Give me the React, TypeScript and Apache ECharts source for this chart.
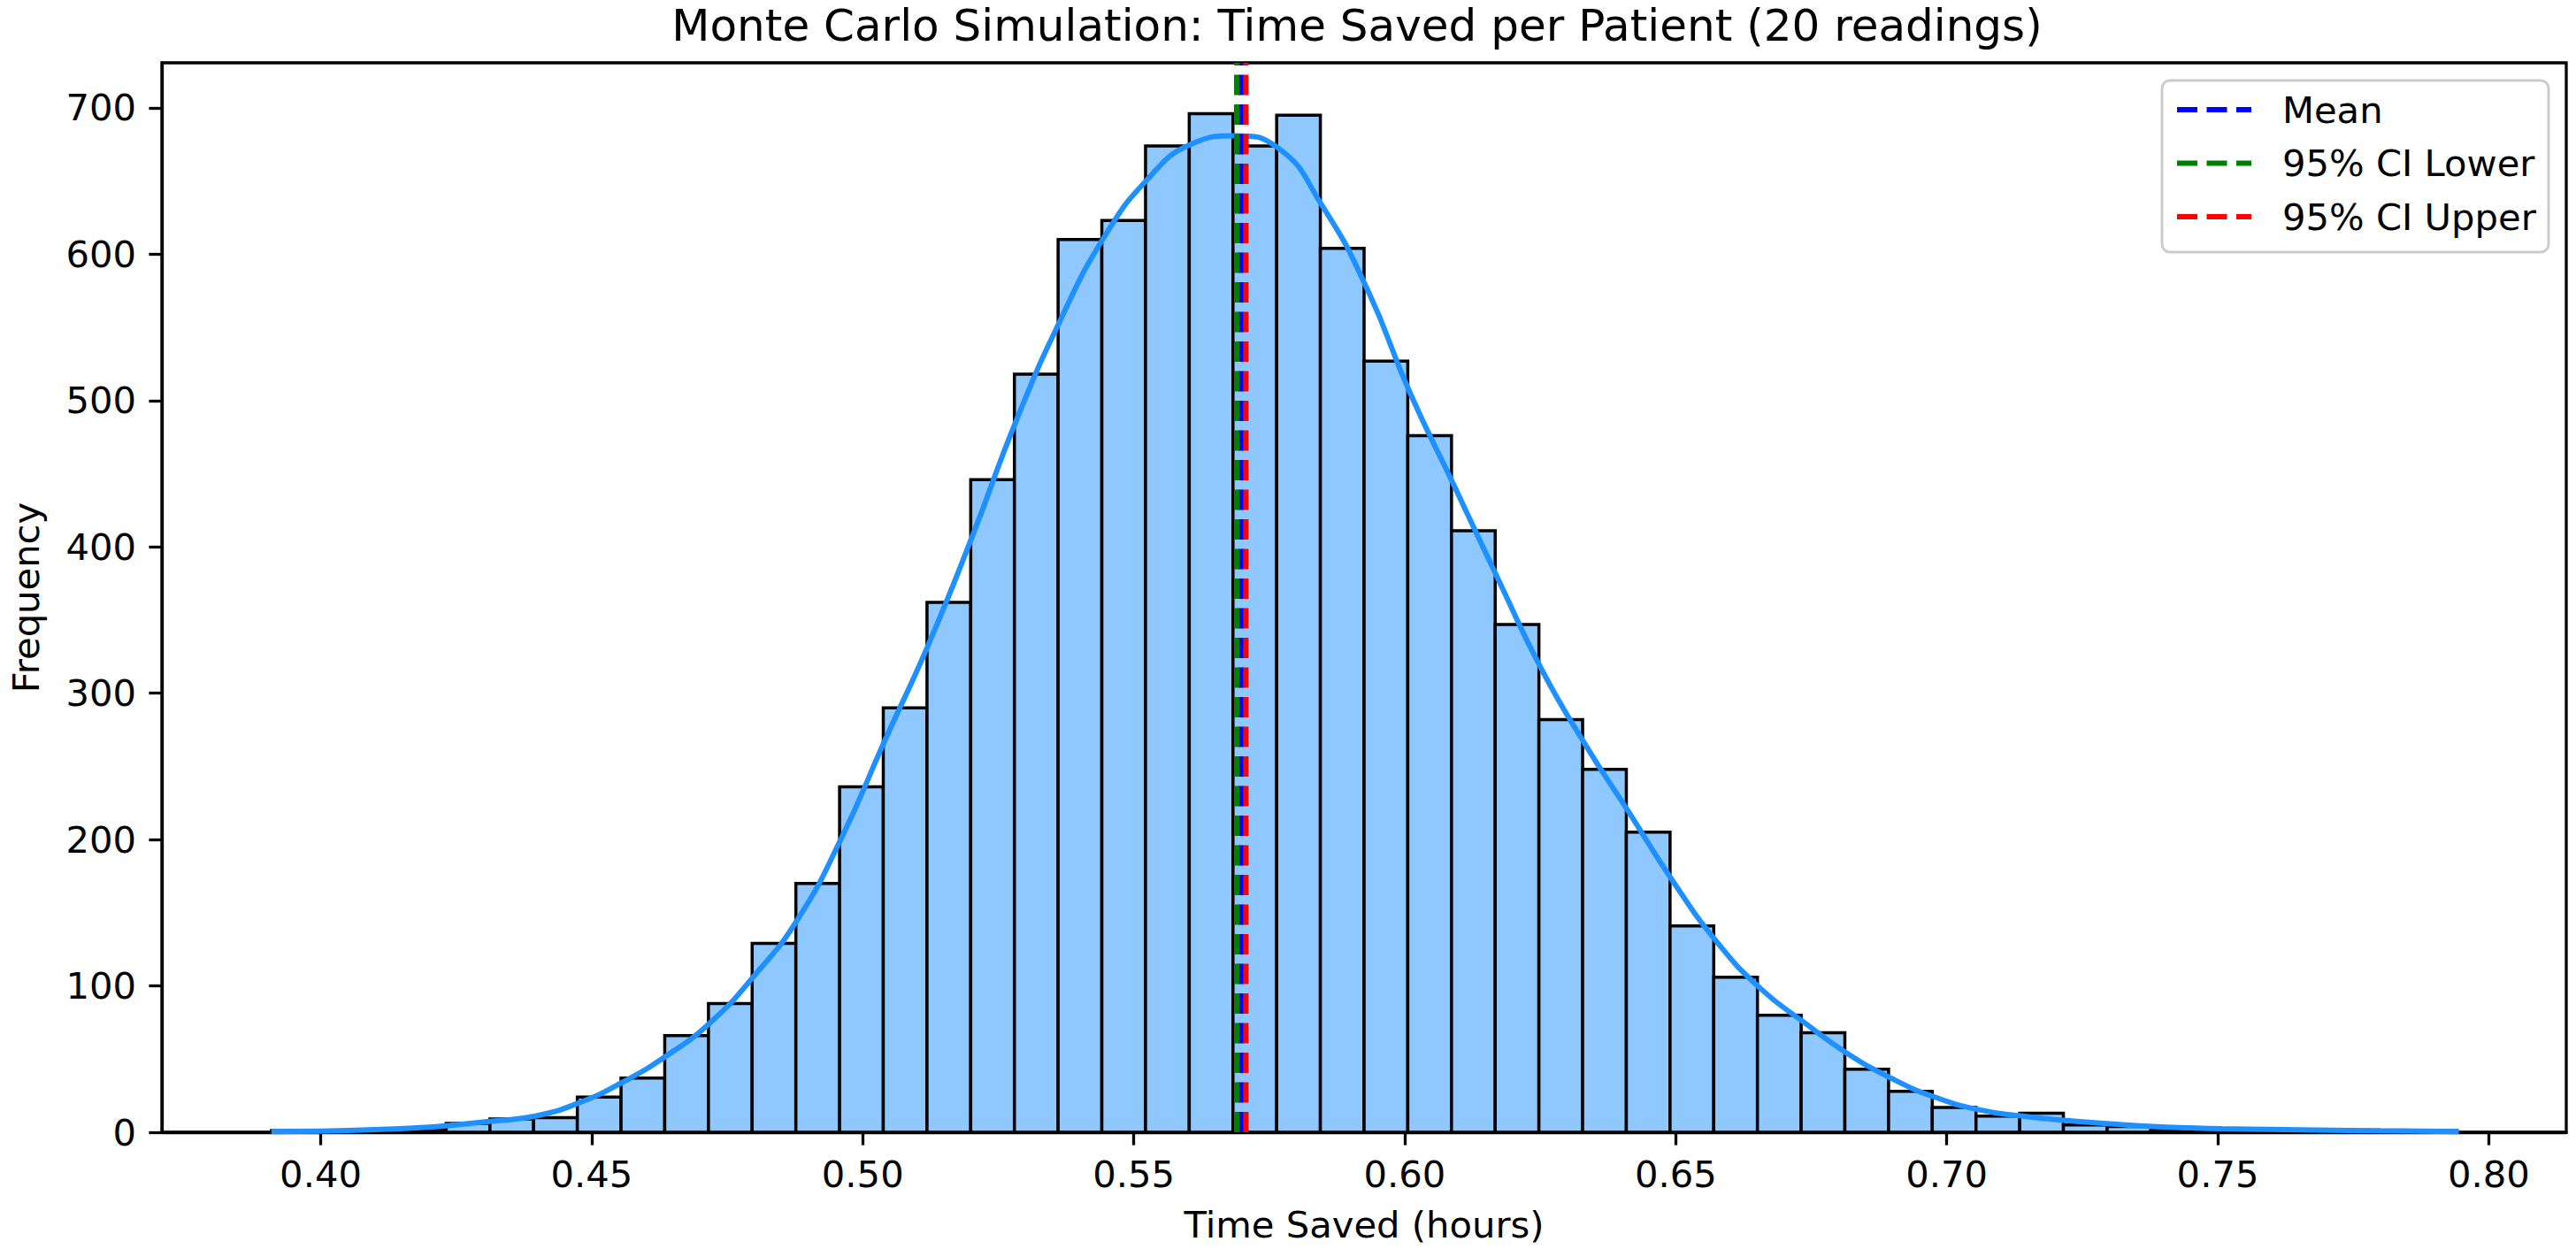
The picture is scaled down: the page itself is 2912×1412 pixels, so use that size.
import React, { useEffect, useRef } from "react";
import * as echarts from "echarts";

// ---- Data ----
const TITLE = "Monte Carlo Simulation: Time Saved per Patient (20 readings)";
const X_LABEL = "Time Saved (hours)";
const Y_LABEL = "Frequency";

// Histogram: 50 equal bins starting at BIN_START
const BIN_START = 0.3909;
const BIN_WIDTH = 0.008064;
const binCounts = [
  1, 1, 1, 2, 6, 9, 10, 24, 37, 66,
  88, 129, 170, 236, 290, 362, 446, 518, 610, 623,
  674, 696, 674, 695, 604, 527, 476, 411, 347, 282,
  248, 205, 141, 106, 80, 68, 43, 28, 17, 11,
  13, 5, 4, 2, 2, 1, 1, 1, 1, 1,
];

// KDE curve
const kdeX = [
  0.3909, 0.4, 0.41, 0.42, 0.4234, 0.4315, 0.4396, 0.4476, 0.4556, 0.4637,
  0.4719, 0.48, 0.4881, 0.4962, 0.504, 0.5121, 0.5202, 0.5283, 0.5366, 0.5446,
  0.5525, 0.5605, 0.5688, 0.5765, 0.5848, 0.5931, 0.601, 0.6091, 0.6171, 0.6253,
  0.6333, 0.6413, 0.6494, 0.6576, 0.6657, 0.6737, 0.6816, 0.6897, 0.6978, 0.7058,
  0.714, 0.7221, 0.7301, 0.738, 0.7448, 0.7508, 0.768, 0.78, 0.7945,
];
const kdeY = [
  0.5, 0.8, 1.8, 3.5, 4.5, 7.5, 11, 20, 34, 52,
  75, 107, 146, 202, 267, 333, 407, 486, 556, 612,
  651, 675, 681, 673, 633, 576, 505, 442, 379, 316,
  265, 219, 172, 130, 98, 75, 54, 37, 24, 15.5,
  11, 8, 5.8, 4.0, 3.0, 2.4, 1.5, 1.0, 0.5,
];

// Reference lines
const lineNames = ["Mean", "95% CI Lower", "95% CI Upper"];
const lineValues = [0.5698, 0.569, 0.5707];
const lineColors = ["#0000ff", "#008000", "#ff0000"];

// Axes
const xTickValues = [0.4, 0.45, 0.5, 0.55, 0.6, 0.65, 0.7, 0.75, 0.8];
const X_MIN = 0.3707;
const X_MAX = 0.8143;
const Y_MAX = 730.8;
const Y_INTERVAL = 100;

const FONT = "DejaVu Sans";
const FS = 41.7;

export default function App() {
  const ref = useRef<HTMLDivElement>(null);

  useEffect(() => {
    document.body.style.margin = "0";
    if (!ref.current) return;
    const chart = echarts.init(ref.current, null, { renderer: "svg" });

    const GRID_L = 167, GRID_T = 71, GRID_R = 2901, GRID_B = 1280;

    const histData = binCounts.map((c, i) => [
      BIN_START + i * BIN_WIDTH,
      BIN_START + (i + 1) * BIN_WIDTH,
      c,
    ]);
    const kdeData = kdeX.map((x, i) => [x, kdeY[i]]);

    const refSeries = lineNames.map((name, i) => ({
      name,
      type: "line",
      data: [
        [lineValues[i], 0],
        [lineValues[i], Y_MAX],
      ],
      symbol: "none",
      lineStyle: { color: lineColors[i], width: 6, type: [23, 10.5] },
      z: 5 + i,
      silent: true,
    }));

    // Legend drawn with graphic elements
    const LEG_L = 2444, LEG_T = 91, LEG_W = 437, LEG_H = 194;
    const rowY = [124, 184.5, 245];
    const legendChildren: any[] = [
      {
        type: "rect",
        shape: { x: LEG_L, y: LEG_T, width: LEG_W, height: LEG_H, r: 9 },
        style: { fill: "rgba(255,255,255,0.8)", stroke: "#cccccc", lineWidth: 3 },
        z: 100,
      },
    ];
    lineNames.forEach((name, i) => {
      legendChildren.push({
        type: "line",
        shape: { x1: 2461, y1: rowY[i], x2: 2545, y2: rowY[i] },
        style: { stroke: lineColors[i], lineWidth: 6, lineDash: [23, 10.5] },
        z: 101,
      });
      legendChildren.push({
        type: "text",
        x: 2580,
        y: rowY[i],
        style: {
          text: name,
          fontSize: FS,
          fontFamily: FONT,
          fill: "#000",
          align: "left",
          verticalAlign: "middle",
        },
        z: 101,
      });
    });

    chart.setOption({
      animation: false,
      backgroundColor: "#ffffff",
      title: {
        text: TITLE,
        left: (GRID_L + GRID_R) / 2,
        top: 4,
        textAlign: "center",
        padding: 0,
        textStyle: {
          fontSize: 50,
          lineHeight: 50,
          fontWeight: "normal",
          fontFamily: FONT,
          color: "#000",
        },
      },
      grid: {
        left: GRID_L,
        top: GRID_T,
        width: GRID_R - GRID_L,
        height: GRID_B - GRID_T,
        show: true,
        borderColor: "#000",
        borderWidth: 3.3,
        containLabel: false,
      },
      xAxis: {
        type: "value",
        min: X_MIN,
        max: X_MAX,
        name: X_LABEL,
        nameLocation: "middle",
        nameGap: 83,
        nameTextStyle: { fontSize: FS, lineHeight: 42, fontFamily: FONT, color: "#000" },
        axisLine: { show: true, onZero: false, lineStyle: { color: "#000", width: 3.3 } },
        axisTick: {
          show: true,
          length: 14.6,
          inside: false,
          customValues: xTickValues,
          lineStyle: { color: "#000", width: 3.3 },
        },
        axisLabel: {
          customValues: xTickValues,
          formatter: (v: number) => v.toFixed(2),
          fontSize: FS,
          lineHeight: 42,
          fontFamily: FONT,
          color: "#000",
          margin: 26,
        },
        splitLine: { show: false },
      },
      yAxis: {
        type: "value",
        min: 0,
        max: Y_MAX,
        interval: Y_INTERVAL,
        name: Y_LABEL,
        nameLocation: "middle",
        nameGap: 133,
        nameRotate: 90,
        nameTextStyle: { fontSize: FS, lineHeight: 42, fontFamily: FONT, color: "#000" },
        axisLine: { show: true, lineStyle: { color: "#000", width: 3.3 } },
        axisTick: { show: true, length: 14.6, lineStyle: { color: "#000", width: 3.3 } },
        axisLabel: {
          fontSize: FS,
          fontFamily: FONT,
          color: "#000",
          margin: 29,
          showMaxLabel: false,
        },
        splitLine: { show: false },
      },
      series: [
        {
          name: "hist",
          type: "custom",
          data: histData,
          encode: { x: [0, 1], y: 2 },
          z: 2,
          silent: true,
          renderItem: (params: any, api: any) => {
            const x0 = api.value(0);
            const x1 = api.value(1);
            const c = api.value(2);
            const p0 = api.coord([x0, c]);
            const p1 = api.coord([x1, 0]);
            return {
              type: "rect",
              shape: { x: p0[0], y: p0[1], width: p1[0] - p0[0], height: p1[1] - p0[1] },
              style: { fill: "#8fc7ff", stroke: "#000", lineWidth: 3.5 },
            };
          },
        },
        {
          name: "kde",
          type: "line",
          data: kdeData,
          smooth: 0.5,
          symbol: "none",
          lineStyle: { color: "#1e90ff", width: 6 },
          z: 3,
          silent: true,
        },
        ...refSeries,
      ],
      graphic: { elements: [{ type: "group", children: legendChildren, z: 100 }] },
    });

    return () => chart.dispose();
  }, []);

  return (
    <div
      ref={ref}
      style={{ position: "absolute", left: 0, top: 0, width: 2912, height: 1412 }}
    />
  );
}
